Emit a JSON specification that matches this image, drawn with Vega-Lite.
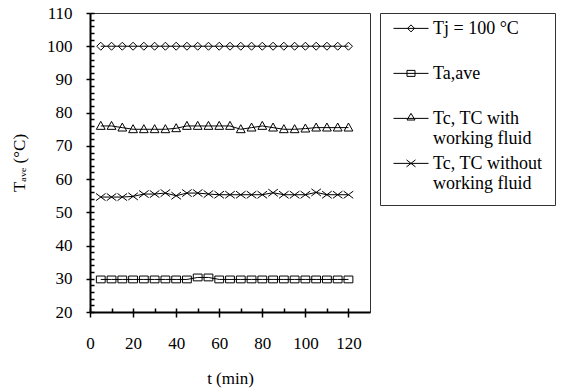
{
  "$schema": "https://vega.github.io/schema/vega-lite/v6.json",
  "width": 280,
  "height": 299,
  "autosize": {"type": "none"},
  "padding": {"left": 90, "top": 13, "right": 194, "bottom": 77},
  "background": "white",
  "config": {
    "font": "Liberation Serif",
    "view": {"stroke": "#333", "strokeWidth": 1},
    "axis": {
      "grid": false,
      "labelFont": "Liberation Serif",
      "labelFontSize": 17,
      "labelColor": "black",
      "titleFont": "Liberation Serif",
      "titleFontSize": 17,
      "titleFontWeight": "normal",
      "titleColor": "black",
      "domainColor": "black",
      "tickColor": "black"
    },
    "legend": {
      "labelFont": "Liberation Serif",
      "labelFontSize": 18,
      "labelColor": "black"
    }
  },
  "data": {
    "values": [
      {"t": 5, "Tj": 100, "Ta": 29.8, "Tcw": 76, "Tcwo": 54.6},
      {"t": 10, "Tj": 100, "Ta": 29.8, "Tcw": 76, "Tcwo": 54.6},
      {"t": 15, "Tj": 100, "Ta": 29.8, "Tcw": 75.5, "Tcwo": 54.6},
      {"t": 20, "Tj": 100, "Ta": 29.8, "Tcw": 75, "Tcwo": 54.8},
      {"t": 25, "Tj": 100, "Ta": 29.8, "Tcw": 75, "Tcwo": 55.5},
      {"t": 30, "Tj": 100, "Ta": 29.8, "Tcw": 75, "Tcwo": 55.5},
      {"t": 35, "Tj": 100, "Ta": 29.8, "Tcw": 75, "Tcwo": 55.8},
      {"t": 40, "Tj": 100, "Ta": 29.8, "Tcw": 75.3, "Tcwo": 55.0},
      {"t": 45, "Tj": 100, "Ta": 29.8, "Tcw": 76, "Tcwo": 55.8},
      {"t": 50, "Tj": 100, "Ta": 30.4, "Tcw": 76, "Tcwo": 55.8},
      {"t": 55, "Tj": 100, "Ta": 30.4, "Tcw": 76, "Tcwo": 55.5},
      {"t": 60, "Tj": 100, "Ta": 29.8, "Tcw": 76, "Tcwo": 55.3},
      {"t": 65, "Tj": 100, "Ta": 29.8, "Tcw": 76, "Tcwo": 55.3},
      {"t": 70, "Tj": 100, "Ta": 29.8, "Tcw": 75, "Tcwo": 55.3},
      {"t": 75, "Tj": 100, "Ta": 29.8, "Tcw": 75.5, "Tcwo": 55.3},
      {"t": 80, "Tj": 100, "Ta": 29.8, "Tcw": 76, "Tcwo": 55.3},
      {"t": 85, "Tj": 100, "Ta": 29.8, "Tcw": 75.5, "Tcwo": 55.9},
      {"t": 90, "Tj": 100, "Ta": 29.8, "Tcw": 75, "Tcwo": 55.3},
      {"t": 95, "Tj": 100, "Ta": 29.8, "Tcw": 75, "Tcwo": 55.3},
      {"t": 100, "Tj": 100, "Ta": 29.8, "Tcw": 75.2, "Tcwo": 55.3},
      {"t": 105, "Tj": 100, "Ta": 29.8, "Tcw": 75.5, "Tcwo": 56.0},
      {"t": 110, "Tj": 100, "Ta": 29.8, "Tcw": 75.5, "Tcwo": 55.3},
      {"t": 115, "Tj": 100, "Ta": 29.8, "Tcw": 75.5, "Tcwo": 55.3},
      {"t": 120, "Tj": 100, "Ta": 29.8, "Tcw": 75.5, "Tcwo": 55.3}
    ]
  },
  "transform": [{"fold": ["Tj", "Ta", "Tcw", "Tcwo"], "as": ["series", "T"]}],
  "layer": [
    {
      "mark": {"type": "line", "color": "black", "strokeWidth": 1},
      "encoding": {
        "x": {
          "field": "t", "type": "quantitative",
          "scale": {"domain": [0, 130], "nice": false, "zero": false},
          "axis": {
            "orient": "bottom",
            "values": [0, 20, 40, 60, 80, 100, 120],
            "tickSize": 5, "tickWidth": 1.5, "domainWidth": 2,
            "labelPadding": 18, "labelFlush": false,
            "title": "t (min)", "titlePadding": 19,
            "titleFont": "Liberation Serif", "labelFont": "Liberation Serif"
          }
        },
        "y": {
          "field": "T", "type": "quantitative",
          "scale": {"domain": [20, 110], "nice": false, "zero": false},
          "axis": {
            "orient": "left",
            "values": [20, 30, 40, 50, 60, 70, 80, 90, 100, 110],
            "tickSize": 4, "tickWidth": 1.5, "domainWidth": 2,
            "labelPadding": 14,
            "title": "Tₐᵥₑ (°C)", "titlePadding": 18,
            "titleFont": "Liberation Serif", "labelFont": "Liberation Serif"
          }
        },
        "detail": {"field": "series"}
      }
    },
    {
      "mark": {"type": "point", "filled": false, "stroke": "black", "strokeWidth": 1, "size": 64, "opacity": 1},
      "encoding": {
        "x": {
          "field": "t", "type": "quantitative",
          "axis": {
            "orient": "bottom",
            "values": [0, 10, 20, 30, 40, 50, 60, 70, 80, 90, 100, 110, 120],
            "tickSize": -4, "tickWidth": 1.5, "domain": false, "labels": false, "title": null
          }
        },
        "y": {
          "field": "T", "type": "quantitative",
          "axis": {
            "orient": "left",
            "values": [20, 22, 24, 26, 28, 30, 32, 34, 36, 38, 40, 42, 44, 46, 48, 50, 52, 54, 56, 58, 60, 62, 64, 66, 68, 70, 72, 74, 76, 78, 80, 82, 84, 86, 88, 90, 92, 94, 96, 98, 100, 102, 104, 106, 108, 110],
            "tickSize": -4, "tickWidth": 1.5, "domain": false, "labels": false, "title": null
          }
        },
        "shape": {
          "field": "series",
          "scale": {
            "domain": ["Tj", "Ta", "Tcw", "Tcwo"],
            "range": [
              "M-1,0L0,-1L1,0L0,1Z",
              "M-1.1,-0.85H1.1V0.85H-1.1Z",
              "M-1.1,0.85L0,-1.15L1.1,0.85Z",
              "M-1.2,-0.9L1.2,0.9M-1.2,0.9L1.2,-0.9"
            ]
          },
          "legend": null
        }
      }
    },
    {
      "mark": {"type": "point", "filled": false, "stroke": "black", "opacity": 0},
      "encoding": {
        "x": {"field": "t", "type": "quantitative", "axis": null},
        "y": {"field": "T", "type": "quantitative", "axis": null},
        "shape": {
          "field": "series",
          "scale": {
            "domain": ["Tj", "Ta", "Tcw", "Tcwo"],
            "range": [
              "M-1,-0.75H3.667M0.867,-0.75L1.333,-1.217L1.8,-0.75L1.333,-0.283Z",
              "M-1,-0.75H3.667M0.8,-1.15H1.867V-0.35H0.8Z",
              "M-1,-0.75H3.667M0.8,-0.53L1.333,-1.417L1.867,-0.53Z",
              "M-1,-0.75H3.667M0.733,-1.217L1.933,-0.283M0.733,-0.283L1.933,-1.217"
            ]
          },
          "legend": {
            "title": null,
            "orient": "none",
            "legendX": 290,
            "legendY": 0,
            "padding": 12,
            "strokeColor": "#333",
            "fillColor": "white",
            "symbolSize": 225,
            "symbolStrokeColor": "black",
            "symbolFillColor": "white",
            "symbolStrokeWidth": 1,
            "symbolOpacity": 1,
            "labelFont": "Liberation Serif",
            "labelFontSize": 18,
            "labelColor": "black",
            "labelBaseline": "alphabetic",
            "labelOffset": 23,
            "labelLimit": 400,
            "rowPadding": 7,
            "labelExpr": "datum.value == 'Tj' ? ['Tj = 100 °C', ''] : datum.value == 'Ta' ? ['Ta,ave', ''] : datum.value == 'Tcw' ? ['Tc, TC with', 'working fluid'] : ['Tc, TC without', 'working fluid']"
          }
        }
      }
    }
  ],
  "resolve": {
    "axis": {"x": "independent", "y": "independent"},
    "scale": {"shape": "independent"}
  }
}
